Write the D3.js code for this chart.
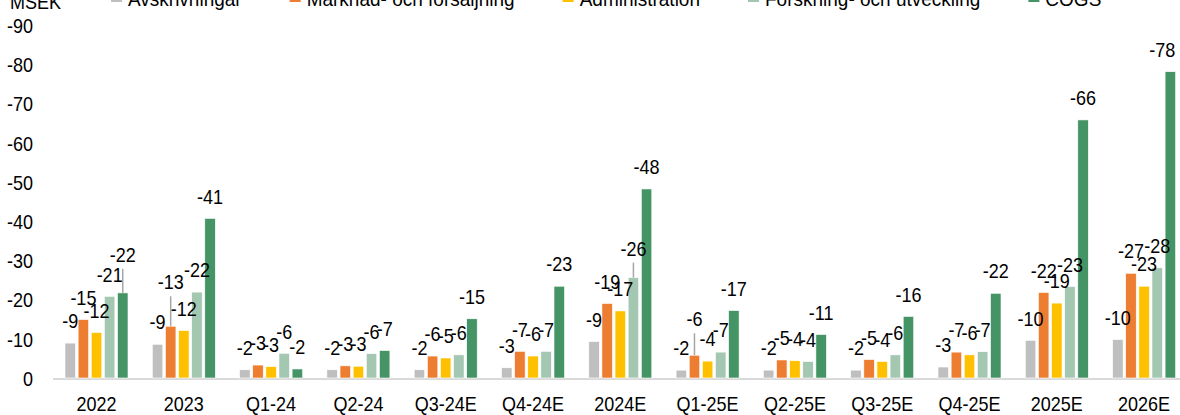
<!DOCTYPE html>
<html><head><meta charset="utf-8">
<script src="https://cdn.jsdelivr.net/npm/d3@7"></script>
<style>
html,body{margin:0;padding:0;background:#fff;}
svg{display:block;font-family:"Liberation Sans",Arial,sans-serif;}
</style></head>
<body>
<svg id="chart" width="1180" height="415"></svg>
<script>
// ---- data ----
const categories = ["2022","2023","Q1-24","Q2-24","Q3-24E","Q4-24E","2024E","Q1-25E","Q2-25E","Q3-25E","Q4-25E","2025E","2026E"];
const seriesNames = ["Avskrivningar","Marknad- och försäljning","Administration","Forskning- och utveckling","COGS"];
const avskrivningar = [-8.9,-8.6,-2.1,-2.1,-2.1,-2.6,-9.3,-2.0,-2.0,-2.0,-2.8,-9.6,-9.8];
const marknad       = [-14.9,-13.2,-3.3,-3.1,-5.6,-6.8,-19.0,-5.8,-4.6,-4.7,-6.6,-21.8,-26.7];
const administration= [-11.6,-12.1,-2.9,-3.0,-5.1,-5.6,-17.1,-4.3,-4.4,-4.2,-5.9,-19.1,-23.4];
const forskning     = [-20.8,-21.9,-6.3,-6.2,-5.9,-6.8,-25.6,-6.6,-4.2,-5.9,-6.7,-23.3,-28.1];
const cogs          = [-21.7,-40.7,-2.3,-7.0,-15.1,-23.4,-48.2,-17.2,-11.1,-15.7,-21.6,-65.8,-78.1];
const yTicks = [0,-10,-20,-30,-40,-50,-60,-70,-80,-90];
const unitLabel = "MSEK";
const colors = ["#BFBFBF","#ED7D31","#FFC000","#A3C7B1","#459466"];
// labels that were dragged away from their bar: extra shift in px (leader line when moved up)
const labelNudges = [
  {cat:"2022", s:4, dx:0, dy:-16},
  {cat:"2023", s:1, dx:0, dy:-22},
  {cat:"2024E", s:3, dx:0, dy:-7},
  {cat:"Q1-25E", s:1, dx:0, dy:-14},
  {cat:"2026E", s:4, dx:-8, dy:0}
];

const seriesValues = [avskrivningar, marknad, administration, forskning, cogs];

// ---- layout ----
const svg = d3.select("#chart");
const baseY = 378;
const y = d3.scaleLinear().domain([0,-90]).range([baseY, 25]);
const x0 = d3.scaleBand().domain(categories).range([52.85, 1187.75]).padding(0);
const x1 = d3.scaleBand().domain(d3.range(seriesNames.length)).range([0, x0.bandwidth()])
  .paddingInner(0.2).paddingOuter(0.926);

const FS = 20, SX = 0.9;
const FONT = "Liberation Sans, Arial, sans-serif";

// baseline
svg.append("line").attr("x1", 53).attr("x2", 1180).attr("y1", baseY+1).attr("y2", baseY+1)
  .attr("stroke", "#d9d9d9").attr("stroke-width", 2);

// y axis labels
const yAxis = svg.append("g").attr("transform","translate(33,1)")
  .call(d3.axisLeft(y).tickValues(yTicks).tickSize(0).tickPadding(0).tickFormat(d => String(d)));
yAxis.select(".domain").remove();
yAxis.selectAll("text").attr("font-size", FS).attr("font-family",FONT).attr("fill","#000")
  .attr("transform", `scale(${SX},1)`).attr("x", 0);

// x axis labels
const xAxis = svg.append("g").attr("transform",`translate(0,${baseY})`)
  .call(d3.axisBottom(x0).tickSize(0).tickPadding(19));
xAxis.select(".domain").remove();
xAxis.selectAll("text").attr("font-size", FS).attr("font-family",FONT).attr("fill","#000")
  .attr("transform", `scale(${SX},1)`);

// bars
const rows = [];
categories.forEach((c,i) => seriesValues.forEach((arr,s) => rows.push({cat:c, s, v:arr[i]})));

svg.append("g").selectAll("rect").data(rows).join("rect")
  .attr("x", d => x0(d.cat) + x1(d.s))
  .attr("width", x1.bandwidth())
  .attr("y", d => y(d.v))
  .attr("height", d => baseY - y(d.v))
  .attr("fill", d => colors[d.s])
  .attr("stroke", "#fff").attr("stroke-width", 0.6);

// labels
function nudge(d){ return labelNudges.find(n => n.cat===d.cat && n.s===d.s) || {dx:0, dy:0}; }
const lab = svg.append("g");
rows.forEach(d => {
  const cx = x0(d.cat) + x1(d.s) + x1.bandwidth()/2;
  const top = y(d.v);
  const n = nudge(d);
  const cy = top - 22 + n.dy;
  if (n.dy < 0) {
    lab.append("line").attr("x1", cx).attr("x2", cx).attr("y1", cy+14).attr("y2", top)
      .attr("stroke", "#a6a6a6").attr("stroke-width", 1.5);
  }
  lab.append("text").attr("transform", `translate(${cx + n.dx},${cy}) scale(${SX},1)`).attr("dy","0.36em")
    .attr("text-anchor","middle").attr("font-size", FS).attr("fill","#000")
    .text(String(Math.round(d.v)));
});

// unit label
svg.append("text").attr("transform", `translate(10,9) scale(${SX},1)`).attr("font-size", FS).attr("fill","#000").text(unitLabel);

// legend
const LSX = 0.95;
const leg = svg.append("g");
let lx = 111;
seriesNames.forEach((name,i) => {
  leg.append("rect").attr("x", lx).attr("y", -8).attr("width", 11).attr("height", 10).attr("fill", colors[i]);
  const t = leg.append("text").attr("transform", `translate(${lx+17},6) scale(${LSX},1)`)
    .attr("font-size", FS).attr("fill","#000").text(name);
  lx += 17 + t.node().getComputedTextLength()*LSX + 48;
});
</script>
</body></html>
